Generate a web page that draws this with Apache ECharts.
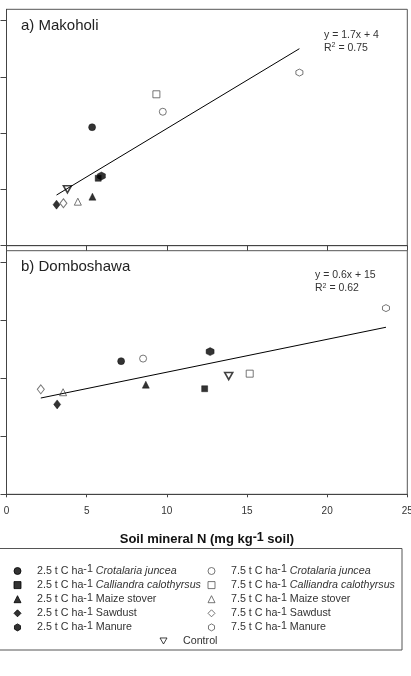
<!DOCTYPE html>
<html>
<head>
<meta charset="utf-8">
<script src="https://cdn.jsdelivr.net/npm/echarts@6/dist/echarts.min.js"></script>
<style>
html,body{margin:0;padding:0;background:#fff;}
#chart{width:411px;height:676px;}
</style>
</head>
<body>
<div id="chart"></div>
<script>
// ---------- data ----------
const treatments = [
  '2.5 t C ha-1 Crotalaria juncea',
  '2.5 t C ha-1 Calliandra calothyrsus',
  '2.5 t C ha-1 Maize stover',
  '2.5 t C ha-1 Sawdust',
  '2.5 t C ha-1 Manure',
  '7.5 t C ha-1 Crotalaria juncea',
  '7.5 t C ha-1 Calliandra calothyrsus',
  '7.5 t C ha-1 Maize stover',
  '7.5 t C ha-1 Sawdust',
  '7.5 t C ha-1 Manure',
  'Control'
];
const makoholiX   = [5.34, 5.72, 5.36, 3.12, 5.92, 9.75, 9.35, 4.45, 3.55, 18.27, 3.80];
const makoholiY   = [21.05, 11.98, 8.71, 7.29, 12.39, 23.8, 26.9, 7.82, 7.54, 30.76, 10.03];
const domboshawaX = [7.15, 12.36, 8.69, 3.16, 12.7, 8.52, 15.17, 3.53, 2.14, 23.67, 13.86];
const domboshawaY = [22.96, 18.2, 18.9, 15.5, 24.6, 23.4, 20.8, 17.6, 18.1, 32.1, 20.4];
const makoholiTrendX   = [3.12, 18.27];
const makoholiTrendY   = [9.0, 35.0];
const domboshawaTrendX = [2.14, 23.67];
const domboshawaTrendY = [16.6, 28.8];
const xTicks = [0, 5, 10, 15, 20, 25];
const yTicks = [0, 10, 20, 30, 40];
const panelTitles = ['a) Makoholi', 'b) Domboshawa'];
const equations = [['y = 1.7x + 4', '0.75'], ['y = 0.6x + 15', '0.62']];

// ---------- styles ----------
const FONT = '"Liberation Sans", Arial, sans-serif';
const HEX = 'path://M0,-10 L8.66,-5 L8.66,5 L0,10 L-8.66,5 L-8.66,-5 Z';
const DOWN_TRI = 'path://M0,0 L10,0 L5,8.66 Z';
const symbolDefs = [
  {symbol: 'circle', size: 7, open: false},
  {symbol: 'rect', size: 6, open: false},
  {symbol: 'triangle', size: 7, open: false},
  {symbol: 'diamond', size: [7, 9], open: false},
  {symbol: HEX, size: 8, open: false},
  {symbol: 'circle', size: 7, open: true},
  {symbol: 'rect', size: 7, open: true},
  {symbol: 'triangle', size: 7, open: true},
  {symbol: 'diamond', size: [7, 9], open: true},
  {symbol: HEX, size: 7, open: true},
  {symbol: DOWN_TRI, size: [8, 7], open: 'control'}
];
function itemStyleFor(d) {
  if (d.open === 'control') return {color: '#fff', borderColor: '#111', borderWidth: 1.6};
  if (d.open) return {color: '#fff', borderColor: '#555', borderWidth: 1};
  return {color: '#000', borderColor: '#000', borderWidth: 0.5};
}

const grids = [
  {left: 6.5, right: 3.7, top: 9.3, height: 236.4, show: true, borderColor: '#555', borderWidth: 1,
   containLabel: false, outerBoundsMode: 'none'},
  {left: 6.5, right: 3.7, top: 250.7, height: 243.6, show: true, borderColor: '#555', borderWidth: 1,
   containLabel: false, outerBoundsMode: 'none'}
];

function xAxisFor(i) {
  return {
    gridIndex: i, type: 'value', min: xTicks[0], max: xTicks[xTicks.length - 1], interval: 5,
    axisLine: {lineStyle: {color: '#444', width: 1}},
    axisTick: {show: true, inside: false, length: i === 0 ? 5 : 3, lineStyle: {color: '#444'}},
    axisLabel: i === 0 ? {show: false} : {show: true, color: '#333', fontSize: 10, fontFamily: FONT, margin: 11.5},
    splitLine: {show: false},
    name: i === 1 ? '{m|Soil mineral N (mg kg}{s|-1}{m| soil)}' : '',
    nameLocation: 'middle',
    nameGap: 37,
    nameTextStyle: {
      rich: {
        m: {fontSize: 13, fontWeight: 'bold', fontFamily: FONT, color: '#111', lineHeight: 16, verticalAlign: 'middle'},
        s: {fontSize: 12.5, fontWeight: 'bold', fontFamily: FONT, color: '#111', lineHeight: 4, verticalAlign: 'top'}
      }
    }
  };
}
function yAxisFor(i) {
  return {
    gridIndex: i, type: 'value', min: 0, max: 42, interval: 10,
    axisLine: {lineStyle: {color: '#444', width: 1}},
    axisTick: {show: true, inside: false, length: 6, customValues: yTicks, lineStyle: {color: '#444'}},
    axisLabel: {show: false},
    splitLine: {show: false}
  };
}

const series = [];
[[makoholiX, makoholiY], [domboshawaX, domboshawaY]].forEach(function (pair, g) {
  treatments.forEach(function (name, k) {
    const d = symbolDefs[k];
    series.push({
      type: 'scatter', name: name, xAxisIndex: g, yAxisIndex: g,
      symbol: d.symbol, symbolSize: d.size,
      itemStyle: itemStyleFor(d),
      data: [[pair[0][k], pair[1][k]]],
      z: 2
    });
  });
});
[[makoholiTrendX, makoholiTrendY], [domboshawaTrendX, domboshawaTrendY]].forEach(function (pair, g) {
  series.push({
    type: 'line', name: 'trend' + g, xAxisIndex: g, yAxisIndex: g,
    showSymbol: false, symbol: 'none',
    lineStyle: {color: '#000', width: 1},
    data: pair[0].map(function (x, j) { return [x, pair[1][j]]; }),
    z: 3
  });
});

function legendFormatter(name) {
  if (name === 'Control') return '{a|Control}';
  const m = name.match(/^(\S+) t C ha-1 (.*)$/);
  const sp = m[2];
  const it = (sp === 'Crotalaria juncea' || sp === 'Calliandra calothyrsus') ? 'i' : 'b';
  return '{a|' + m[1] + ' t C ha}{s|-1}{' + it + '| ' + sp + '}';
}
const LF = 10.7;
const legendRich = {
  a: {fontSize: LF, fontFamily: FONT, color: '#333', lineHeight: 14, verticalAlign: 'middle', padding: [0, 0, 0, 11]},
  b: {fontSize: LF, fontFamily: FONT, color: '#333', lineHeight: 14, verticalAlign: 'middle'},
  i: {fontSize: LF, fontFamily: FONT, fontStyle: 'italic', color: '#333', lineHeight: 14, verticalAlign: 'middle'},
  s: {fontSize: LF, fontFamily: FONT, color: '#333', lineHeight: 1, verticalAlign: 'top'}
};
function legendFor(names, left, top) {
  return {
    data: names, orient: 'vertical', left: left, top: top,
    itemWidth: 7, itemHeight: 7, itemGap: 1.6, padding: 0,
    selectedMode: false,
    itemStyle: {borderWidth: 1},
    formatter: legendFormatter,
    textStyle: {rich: legendRich}
  };
}

function eqText(x, y, eq) {
  return [
    {type: 'text', left: x, top: y - 6, style: {text: eq[0], fontSize: 10.5, fontFamily: FONT, fill: '#333'}},
    {type: 'text', left: x, top: y + 6.5, style: {
      text: '{r|R}{s|2}{r| = ' + eq[1] + '}',
      rich: {
        r: {fontSize: 10.5, fontFamily: FONT, fill: '#333', lineHeight: 12, verticalAlign: 'middle'},
        s: {fontSize: 7, fontFamily: FONT, fill: '#333', lineHeight: 4, verticalAlign: 'top'}
      }
    }}
  ];
}

const option = {
  animation: false,
  backgroundColor: '#fff',
  grid: grids,
  xAxis: [xAxisFor(0), xAxisFor(1)],
  yAxis: [yAxisFor(0), yAxisFor(1)],
  legend: [
    legendFor(treatments.slice(0, 5), 13.5, 564),
    legendFor(treatments.slice(5, 10), 207.5, 564),
    legendFor(treatments.slice(10), 159.5, 635.5)
  ],
  graphic: [
    {type: 'rect', shape: {x: -1, y: 548.5, width: 403, height: 101.5}, style: {fill: 'none', stroke: '#555', lineWidth: 1}, z: 0},
    {type: 'text', left: 21, top: 18.5, style: {text: panelTitles[0], fontSize: 15, fontFamily: FONT, fill: '#222'}},
    {type: 'text', left: 21, top: 259.5, style: {text: panelTitles[1], fontSize: 15, fontFamily: FONT, fill: '#222'}}
  ].concat(eqText(324, 35.5, equations[0])).concat(eqText(315, 276, equations[1])),
  series: series
};

const chart = echarts.init(document.getElementById('chart'), null, {renderer: 'canvas'});
chart.setOption(option);
</script>
</body>
</html>
